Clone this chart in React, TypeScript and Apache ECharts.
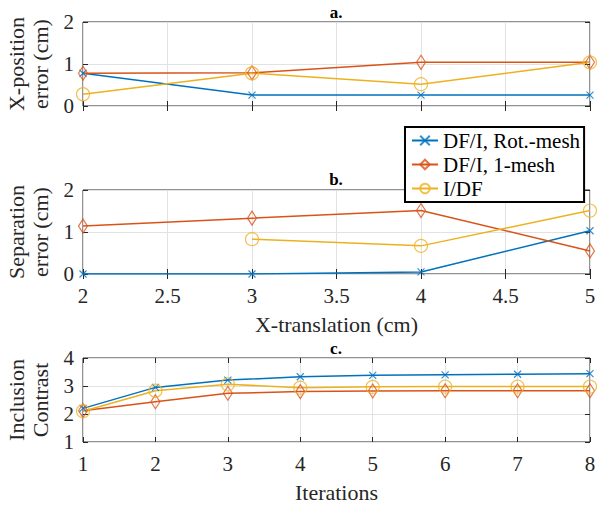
import React, { useEffect, useRef } from "react";
import * as echarts from "echarts";

const seriesNames = ["DF/I, Rot.-mesh", "DF/I, 1-mesh", "I/DF"];
const colors = ["#0072BD", "#D95319", "#EDB120"];

const translationTicks = [2, 3, 4, 5];
const aRot = [0.78, 0.26, 0.26, 0.26];
const aOne = [0.78, 0.79, 1.04, 1.04];
const aIDF = [0.28, 0.78, 0.52, 1.04];

const bRot = [0, 0, 0.05, 1.03];
const bOne = [1.14, 1.33, 1.51, 0.55];
const bIDF: (number | null)[] = [null, 0.83, 0.67, 1.51];

const iterations = [1, 2, 3, 4, 5, 6, 7, 8];
const cRot = [2.2, 2.95, 3.21, 3.33, 3.38, 3.4, 3.42, 3.44];
const cOne = [2.12, 2.44, 2.74, 2.8, 2.82, 2.83, 2.83, 2.83];
const cIDF = [2.1, 2.83, 3.06, 2.94, 2.97, 2.98, 2.98, 2.98];

const FONT = "'Liberation Serif', 'Times New Roman', serif";
const AXIS_COLOR = "#262626";
const xSym = "path://M0,0L10,10M10,0L0,10";
const symbols = [xSym, "diamond", "circle"];
const symSizes: any[] = [[7, 7], [9, 14], [13, 13]];

function pairs(xs: number[], ys: (number | null)[]) {
  const out: number[][] = [];
  xs.forEach((x, i) => {
    const y = ys[i];
    if (y !== null && y !== undefined) out.push([x, y]);
  });
  return out;
}

export default function App() {
  const ref = useRef<HTMLDivElement>(null);
  useEffect(() => {
    if (!ref.current) return;
    const chart = echarts.init(ref.current, undefined, { renderer: "svg" });

    const grids = [
      { left: 83, right: 14, top: 22, height: 84 },
      { left: 83, right: 14, top: 190, height: 84 },
      { left: 83, right: 14, top: 358, height: 84 },
    ].map((g) => ({
      ...g, show: true, borderColor: AXIS_COLOR, borderWidth: 1, backgroundColor: "#fff",
      containLabel: false, outerBoundsMode: "none",
    }));

    const tickLabel = { fontFamily: FONT, fontSize: 21, color: AXIS_COLOR };
    const nameStyle = { fontFamily: FONT, fontSize: 22, color: AXIS_COLOR, lineHeight: 24 };
    const split = { show: true, lineStyle: { color: "#e2e2e2", width: 1 } };

    const mainX = (grid: number, min: number, max: number, interval: number, showLabels: boolean, name: string) => ({
      type: "value", gridIndex: grid, min, max, interval, position: "bottom",
      axisLine: { show: false },
      axisTick: { show: true, inside: true, length: 5, lineStyle: { color: AXIS_COLOR } },
      axisLabel: { show: showLabels, ...tickLabel, margin: 11 },
      splitLine: split,
      name, nameLocation: "middle", nameGap: 38, nameTextStyle: nameStyle,
    });
    const topX = (grid: number, min: number, max: number, interval: number) => ({
      type: "value", gridIndex: grid, min, max, interval, position: "top",
      axisLine: { show: false },
      axisTick: { show: true, inside: true, length: 5, lineStyle: { color: AXIS_COLOR } },
      axisLabel: { show: false }, splitLine: { show: false },
    });
    const mainY = (grid: number, min: number, max: number, name: string) => ({
      type: "value", gridIndex: grid, min, max, interval: 1, position: "left",
      axisLine: { show: false },
      axisTick: { show: true, inside: true, length: 5, lineStyle: { color: AXIS_COLOR } },
      axisLabel: { show: true, ...tickLabel, margin: 9 },
      splitLine: split,
      name, nameLocation: "middle", nameGap: 31, nameRotate: 90, nameTextStyle: nameStyle,
    });
    const rightY = (grid: number, min: number, max: number) => ({
      type: "value", gridIndex: grid, min, max, interval: 1, position: "right",
      axisLine: { show: false },
      axisTick: { show: true, inside: true, length: 5, lineStyle: { color: AXIS_COLOR } },
      axisLabel: { show: false }, splitLine: { show: false },
    });

    const mk = (k: number, data: number[][], axisIdx: number) => ({
      type: "line", name: seriesNames[k], xAxisIndex: axisIdx, yAxisIndex: axisIdx,
      data, symbol: symbols[k], symbolSize: symSizes[k],
      lineStyle: { color: colors[k], width: 1.5 },
      itemStyle: { color: "none", borderColor: colors[k], borderWidth: 1.2, opacity: 0.8 },
      color: colors[k],
    });

    const series = [
      mk(0, pairs(translationTicks, aRot), 0),
      mk(1, pairs(translationTicks, aOne), 0),
      mk(2, pairs(translationTicks, aIDF), 0),
      mk(0, pairs(translationTicks, bRot), 2),
      mk(1, pairs(translationTicks, bOne), 2),
      mk(2, pairs(translationTicks, bIDF), 2),
      mk(0, pairs(iterations, cRot), 4),
      mk(1, pairs(iterations, cOne), 4),
      mk(2, pairs(iterations, cIDF), 4),
    ];

    const titleText = (t: string, y: number) => ({
      type: "text", x: 336, y, z: 100,
      style: { text: t, align: "center", verticalAlign: "middle", font: `bold 17px ${FONT}`, fill: "#000" },
    });

    chart.setOption({
      animation: false,
      backgroundColor: "#fff",
      grid: grids,
      xAxis: [
        mainX(0, 2, 5, 0.5, false, ""),
        topX(0, 2, 5, 0.5),
        mainX(1, 2, 5, 0.5, true, "X-translation (cm)"),
        topX(1, 2, 5, 0.5),
        mainX(2, 1, 8, 1, true, "Iterations"),
        topX(2, 1, 8, 1),
      ],
      yAxis: [
        mainY(0, 0, 2, "X-position\nerror (cm)"),
        rightY(0, 0, 2),
        mainY(1, 0, 2, "Separation\nerror (cm)"),
        rightY(1, 0, 2),
        mainY(2, 1, 4, "Inclusion\nContrast"),
        rightY(2, 1, 4),
      ],
      legend: {
        data: seriesNames, orient: "vertical", left: 405, top: 127, z: 50,
        backgroundColor: "#fff", borderColor: "#000", borderWidth: 2,
        padding: [3, 4, 3, 6], itemGap: 3, itemWidth: 26, itemHeight: 12,
        textStyle: { fontFamily: FONT, fontSize: 21, color: "#000" },
      },
      graphic: [titleText("a.", 12), titleText("b.", 179), titleText("c.", 348)],
      series,
    });
    return () => chart.dispose();
  }, []);
  return <div ref={ref} style={{ width: 604, height: 508, position: "absolute", left: 0, top: 0 }} />;
}
